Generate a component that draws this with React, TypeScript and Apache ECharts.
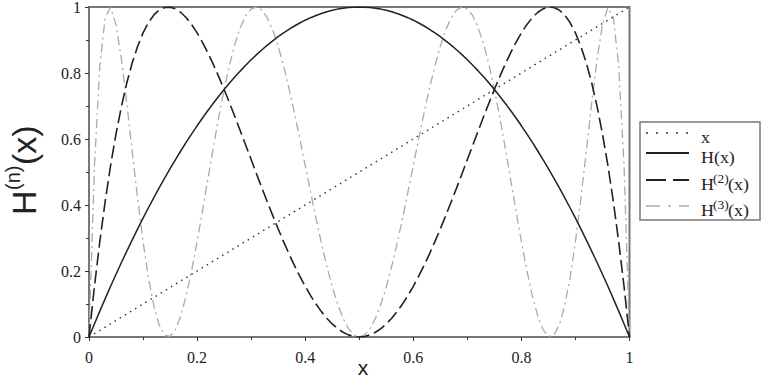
import React, { useEffect, useRef } from "react";
import * as echarts from "echarts";

// sample positions along x
const xValues: number[] = [
  0, 0.01, 0.02, 0.03, 0.04, 0.05, 0.06, 0.07, 0.08, 0.09,
  0.1, 0.11, 0.12, 0.13, 0.14, 0.15, 0.16, 0.17, 0.18, 0.19,
  0.2, 0.21, 0.22, 0.23, 0.24, 0.25, 0.26, 0.27, 0.28, 0.29,
  0.3, 0.31, 0.32, 0.33, 0.34, 0.35, 0.36, 0.37, 0.38, 0.39,
  0.4, 0.41, 0.42, 0.43, 0.44, 0.45, 0.46, 0.47, 0.48, 0.49,
  0.5, 0.51, 0.52, 0.53, 0.54, 0.55, 0.56, 0.57, 0.58, 0.59,
  0.6, 0.61, 0.62, 0.63, 0.64, 0.65, 0.66, 0.67, 0.68, 0.69,
  0.7, 0.71, 0.72, 0.73, 0.74, 0.75, 0.76, 0.77, 0.78, 0.79,
  0.8, 0.81, 0.82, 0.83, 0.84, 0.85, 0.86, 0.87, 0.88, 0.89,
  0.9, 0.91, 0.92, 0.93, 0.94, 0.95, 0.96, 0.97, 0.98, 0.99, 1,
];

// identity line x
const identityX: number[] = [0, 1];
const identityY: number[] = [0, 1];

// H(x)
const hValues: number[] = [
  0, 0.0396, 0.0784, 0.1164, 0.1536, 0.19, 0.2256, 0.2604, 0.2944, 0.3276,
  0.36, 0.3916, 0.4224, 0.4524, 0.4816, 0.51, 0.5376, 0.5644, 0.5904, 0.6156,
  0.64, 0.6636, 0.6864, 0.7084, 0.7296, 0.75, 0.7696, 0.7884, 0.8064, 0.8236,
  0.84, 0.8556, 0.8704, 0.8844, 0.8976, 0.91, 0.9216, 0.9324, 0.9424, 0.9516,
  0.96, 0.9676, 0.9744, 0.9804, 0.9856, 0.99, 0.9936, 0.9964, 0.9984, 0.9996,
  1,
  0.9996, 0.9984, 0.9964, 0.9936, 0.99, 0.9856, 0.9804, 0.9744, 0.9676, 0.96,
  0.9516, 0.9424, 0.9324, 0.9216, 0.91, 0.8976, 0.8844, 0.8704, 0.8556, 0.84,
  0.8236, 0.8064, 0.7884, 0.7696, 0.75, 0.7296, 0.7084, 0.6864, 0.6636, 0.64,
  0.6156, 0.5904, 0.5644, 0.5376, 0.51, 0.4816, 0.4524, 0.4224, 0.3916, 0.36,
  0.3276, 0.2944, 0.2604, 0.2256, 0.19, 0.1536, 0.1164, 0.0784, 0.0396, 0,
];

// H^(2)(x)
const h2Values: number[] = [
  0, 0.1521, 0.289, 0.4114, 0.52, 0.6156, 0.6988, 0.7704, 0.8309, 0.8811,
  0.9216, 0.953, 0.9759, 0.9909, 0.9986, 0.9996, 0.9943, 0.9834, 0.9673, 0.9465,
  0.9216, 0.8929, 0.861, 0.8263, 0.7891, 0.75, 0.7093, 0.6673, 0.6245, 0.5811,
  0.5376, 0.4942, 0.4512, 0.409, 0.3677, 0.3276, 0.289, 0.2521, 0.2171, 0.1842,
  0.1536, 0.1254, 0.0998, 0.0769, 0.0568, 0.0396, 0.0254, 0.0143, 0.0064, 0.0016,
  0,
  0.0016, 0.0064, 0.0143, 0.0254, 0.0396, 0.0568, 0.0769, 0.0998, 0.1254, 0.1536,
  0.1842, 0.2171, 0.2521, 0.289, 0.3276, 0.3677, 0.409, 0.4512, 0.4942, 0.5376,
  0.5811, 0.6245, 0.6673, 0.7093, 0.75, 0.7891, 0.8263, 0.861, 0.8929, 0.9216,
  0.9465, 0.9673, 0.9834, 0.9943, 0.9996, 0.9986, 0.9909, 0.9759, 0.953, 0.9216,
  0.8811, 0.8309, 0.7704, 0.6988, 0.6156, 0.52, 0.4114, 0.289, 0.1521, 0,
];

// H^(3)(x)
const h3Values: number[] = [
  0, 0.5159, 0.8219, 0.9686, 0.9984, 0.9465, 0.8419, 0.7076, 0.562, 0.419,
  0.289, 0.1792, 0.094, 0.0359, 0.0054, 0.0016, 0.0225, 0.0653, 0.1265, 0.2024,
  0.289, 0.3824, 0.4787, 0.5742, 0.6656, 0.75, 0.8248, 0.888, 0.938, 0.9737,
  0.9943, 0.9999, 0.9905, 0.9668, 0.9299, 0.8811, 0.8219, 0.7542, 0.6799, 0.6012,
  0.52, 0.4387, 0.3593, 0.2838, 0.2142, 0.1521, 0.0992, 0.0566, 0.0254, 0.0064,
  0,
  0.0064, 0.0254, 0.0566, 0.0992, 0.1521, 0.2142, 0.2838, 0.3593, 0.4387, 0.52,
  0.6012, 0.6799, 0.7542, 0.8219, 0.8811, 0.9299, 0.9668, 0.9905, 0.9999, 0.9943,
  0.9737, 0.938, 0.888, 0.8248, 0.75, 0.6656, 0.5742, 0.4787, 0.3824, 0.289,
  0.2024, 0.1265, 0.0653, 0.0225, 0.0016, 0.0054, 0.0359, 0.094, 0.1792, 0.289,
  0.419, 0.562, 0.7076, 0.8419, 0.9465, 0.9984, 0.9686, 0.8219, 0.5159, 0,
];

const seriesNames: string[] = ["x", "H(x)", "H(2)(x)", "H(3)(x)"];

const pair = (xs: number[], ys: number[]) => xs.map((x, i) => [x, ys[i]]);

const SERIF = "Liberation Serif";
const SANS = "Liberation Sans";

function legendText(x: number, y: number, text: string, size: number) {
  return {
    type: "text",
    x,
    y,
    scaleX: 1.12,
    style: {
      text,
      x: 0,
      y: 0,
      fontSize: size,
      fontFamily: SERIF,
      fill: "#222",
      align: "left",
      verticalAlign: "middle",
      textAlign: "left",
      textVerticalAlign: "middle",
    },
  };
}

function legendLine(y: number, stroke: string, width: number, dash: number[] | null) {
  return {
    type: "line",
    shape: { x1: 646, y1: y, x2: 689, y2: y },
    style: { stroke, lineWidth: width, lineDash: dash || undefined, fill: "none" },
  };
}

export default function App() {
  const ref = useRef<HTMLDivElement>(null);

  useEffect(() => {
    if (!ref.current) return;
    document.body.style.margin = "0";
    const chart = echarts.init(ref.current, undefined, { renderer: "svg" });

    const axisCommon = {
      type: "value",
      min: 0,
      max: 1,
      interval: 0.2,
      axisLine: { show: true, lineStyle: { color: "#777", width: 2 } },
      axisTick: { show: true, inside: false, length: 4, lineStyle: { color: "#333", width: 1 } },
      minorTick: { show: true, splitNumber: 2, length: 3, lineStyle: { color: "#333", width: 1 } },
      splitLine: { show: false },
      minorSplitLine: { show: false },
    };

    chart.setOption({
      animation: false,
      backgroundColor: "#fff",
      grid: {
        left: 89,
        right: 135.5,
        top: 7,
        bottom: 41,
        containLabel: false,
        outerBoundsMode: "none",
        show: true,
        borderColor: "#777",
        borderWidth: 2,
        backgroundColor: "transparent",
      },
      xAxis: {
        ...axisCommon,
        axisLabel: { fontFamily: SERIF, fontSize: 16, color: "#222", margin: 12 },
      },
      yAxis: {
        ...axisCommon,
        axisLabel: { fontFamily: SERIF, fontSize: 16, color: "#222", margin: 8 },
      },
      series: [
        {
          name: seriesNames[0],
          type: "line",
          data: pair(identityX, identityY),
          showSymbol: false,
          symbol: "none",
          lineStyle: { color: "#333", width: 1.4, type: [1.5, 4.5] },
          z: 2,
        },
        {
          name: seriesNames[1],
          type: "line",
          data: pair(xValues, hValues),
          showSymbol: false,
          symbol: "none",
          lineStyle: { color: "#222", width: 1.5, type: "solid" },
          z: 3,
        },
        {
          name: seriesNames[2],
          type: "line",
          data: pair(xValues, h2Values),
          showSymbol: false,
          symbol: "none",
          lineStyle: { color: "#222", width: 1.6, type: [13, 5] },
          z: 3,
        },
        {
          name: seriesNames[3],
          type: "line",
          data: pair(xValues, h3Values),
          showSymbol: false,
          symbol: "none",
          lineStyle: { color: "#aaa", width: 1.3, type: [9, 4, 2, 4] },
          z: 1,
        },
      ],
      graphic: [
        // x-axis title
        {
          type: "text",
          x: 363,
          y: 367,
          style: {
            text: "x", x: 0, y: 0, fontSize: 21, fontFamily: SANS, fill: "#222",
            align: "center", verticalAlign: "middle", textAlign: "center", textVerticalAlign: "middle",
          },
        },
        // y-axis title H^(n)(x), rotated
        {
          type: "group",
          x: 36,
          y: 215,
          rotation: Math.PI / 2,
          children: [
            {
              type: "text",
              style: {
                text: "H", x: 0, y: -12, fontSize: 34, fontFamily: SANS, fill: "#222",
                align: "left", verticalAlign: "middle", textAlign: "left", textVerticalAlign: "middle",
              },
            },
            {
              type: "text",
              style: {
                text: "(n)", x: 25, y: -23, fontSize: 20, fontFamily: SANS, fill: "#222",
                align: "left", verticalAlign: "middle", textAlign: "left", textVerticalAlign: "middle",
              },
            },
            {
              type: "text",
              style: {
                text: "(x)", x: 50, y: -12, fontSize: 34, fontFamily: SANS, fill: "#222",
                align: "left", verticalAlign: "middle", textAlign: "left", textVerticalAlign: "middle",
              },
            },
          ],
        },
        // legend box
        {
          type: "rect",
          shape: { x: 640, y: 122, width: 120, height: 98 },
          style: { fill: "#fff", stroke: "#777", lineWidth: 1.5 },
        },
        legendLine(133, "#333", 1.6, [2, 8]),
        legendLine(153, "#222", 1.8, null),
        legendLine(180, "#222", 1.8, [20, 7]),
        legendLine(206, "#aaa", 1.5, [14, 8, 3, 8]),
        legendText(701, 137.6, "x", 16),
        legendText(701, 157.6, "H(x)", 16),
        legendText(701, 184.6, "H", 16),
        legendText(713, 179, "(2)", 12),
        legendText(728, 184.6, "(x)", 16),
        legendText(701, 210.6, "H", 16),
        legendText(713, 205, "(3)", 12),
        legendText(728, 210.6, "(x)", 16),
      ],
    });

    return () => chart.dispose();
  }, []);

  return <div ref={ref} style={{ width: 765, height: 378 }} />;
}
